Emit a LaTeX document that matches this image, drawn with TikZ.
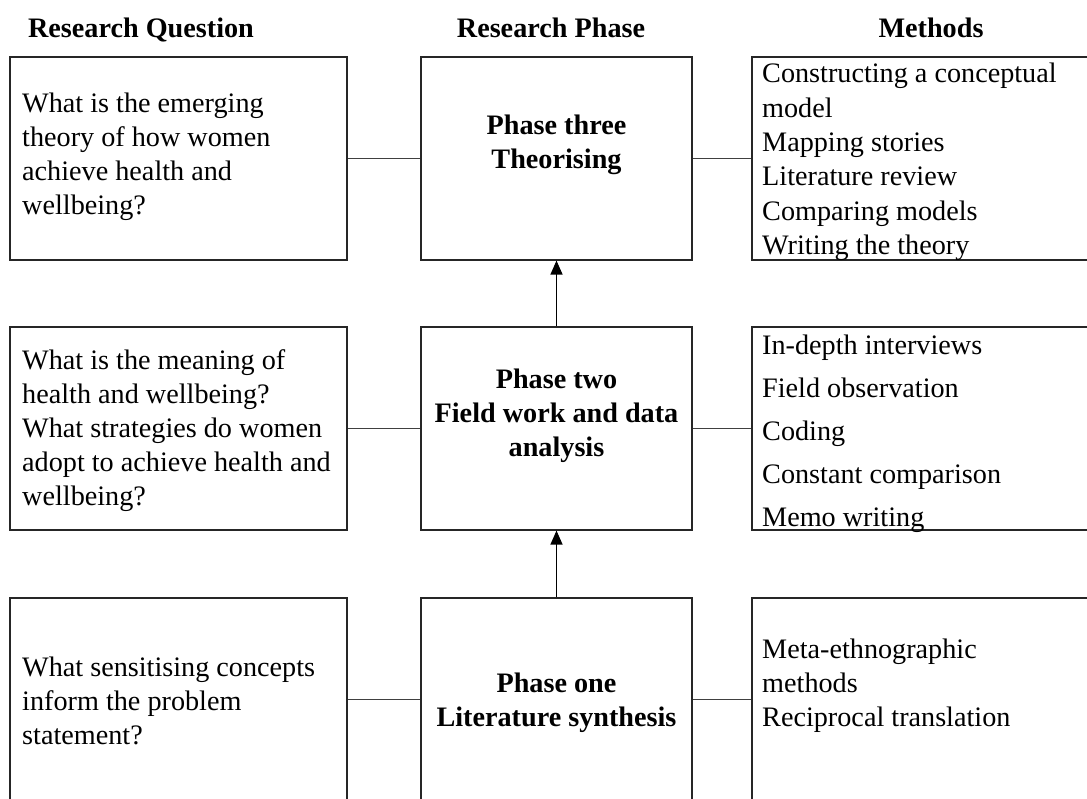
\documentclass[tikz,border=0pt]{standalone}
\usepackage{fontspec}
\setmainfont{Liberation Serif}
\usetikzlibrary{arrows.meta}
\begin{document}
\begin{tikzpicture}[x=1pt,y=-1pt,
  box/.style={draw=black!85, line width=1.2pt, inner sep=0pt},
  qbox/.style={box, minimum width=337pt, minimum height=203pt},
  pbox/.style={box, minimum width=271pt, minimum height=203pt},
  mbox/.style={box, minimum width=348pt, minimum height=203pt},
  link/.style={draw=black!75, line width=0.9pt},
  flow/.style={draw=black, line width=1.3pt, -{Triangle[length=14pt,width=12pt]}},
  head/.style={inner sep=0pt, anchor=base, font=\fontsize{28.2pt}{34pt}\selectfont\bfseries},
  txt/.style={inner sep=0pt, align=left, anchor=west, font=\fontsize{28.2pt}{34pt}\selectfont},
  ptxt/.style={inner sep=0pt, align=center, font=\fontsize{28.2pt}{34pt}\selectfont\bfseries}]
\useasboundingbox (0,0) rectangle (1087,798);
\clip (0,0) rectangle (1087,798);
\fill[white] (0,0) rectangle (1087,798);

% column headings
\node[head] (hq) at (141,37) {Research Question};
\node[head] (hp) at (551,37) {Research Phase};
\node[head] (hm) at (931,37) {Methods};

% research questions
\node[qbox] (q3) at (178.5,158.5) {};
\node[qbox] (q2) at (178.5,428.5) {};
\node[qbox] (q1) at (178.5,699.5) {};

% research phases
\node[pbox] (p3) at (556.5,158.5) {};
\node[pbox] (p2) at (556.5,428.5) {};
\node[pbox] (p1) at (556.5,699.5) {};

% methods
\node[mbox] (m3) at (926,158.5) {};
\node[mbox] (m2) at (926,428.5) {};
\node[mbox] (m1) at (926,699.5) {};

% box texts
\node[txt] (tq3) at (22,157) {What is the emerging\\theory of how women\\achieve health and\\wellbeing?};
\node[txt] (tq2) at (22,431) {What is the meaning of\\health and wellbeing?\\What strategies do women\\adopt to achieve health and\\wellbeing?};
\node[txt] (tq1) at (22,701) {What sensitising concepts\\inform the problem\\statement?};

\node[ptxt] (tp3) at (556.5,145) {Phase three\\Theorising};
\node[ptxt] (tp2) at (556.5,416) {Phase two\\Field work and data\\analysis};
\node[ptxt] (tp1) at (556.5,703) {Phase one\\Literature synthesis};

\node[txt, font=\fontsize{28.2pt}{34.4pt}\selectfont] (tm3) at (762,162) {Constructing a conceptual\\model\\Mapping stories\\Literature review\\Comparing models\\Writing the theory};
\node[txt, font=\fontsize{28.2pt}{43pt}\selectfont] (tm2) at (762,434) {In-depth interviews\\Field observation\\Coding\\Constant comparison\\Memo writing};
\node[txt] (tm1) at (762,686) {Meta-ethnographic\\methods\\Reciprocal translation};

% connectors
\foreach \r in {1,2,3} {
  \draw[link] (q\r.east) -- (p\r.west);
  \draw[link] (p\r.east) -- (m\r.west);
}
\draw[flow] (p1.north) -- (p2.south);
\draw[flow] (p2.north) -- (p3.south);
\end{tikzpicture}
\end{document}
